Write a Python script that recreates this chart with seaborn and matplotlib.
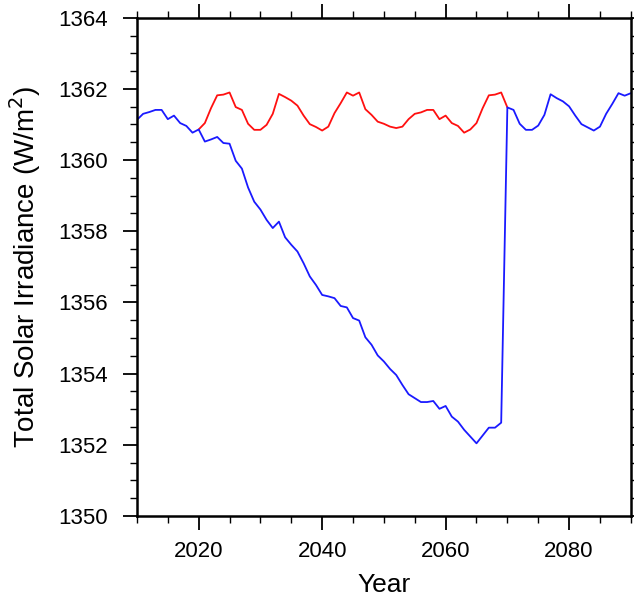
import numpy as np
import pandas as pd
import matplotlib
matplotlib.use("Agg")
import matplotlib.pyplot as plt
import seaborn as sns
from matplotlib.ticker import MultipleLocator

# ----------------------------
# DATA
# ----------------------------
blue_years = list(range(2010, 2091))
blue_tsi = [
    1361.13, 1361.30, 1361.35, 1361.41, 1361.41, 1361.15, 1361.25, 1361.04, 1360.96, 1360.77,
    1360.86, 1360.52, 1360.58, 1360.65, 1360.48, 1360.46, 1359.98, 1359.76, 1359.23, 1358.83,
    1358.61, 1358.32, 1358.09, 1358.27, 1357.83, 1357.62, 1357.43, 1357.10, 1356.73, 1356.49,
    1356.21, 1356.17, 1356.12, 1355.90, 1355.86, 1355.56, 1355.49, 1355.02, 1354.81, 1354.51,
    1354.34, 1354.13, 1353.96, 1353.68, 1353.42, 1353.31, 1353.20, 1353.20, 1353.23, 1353.01,
    1353.09, 1352.79, 1352.65, 1352.42, 1352.23, 1352.04, 1352.26, 1352.48, 1352.48, 1352.62,
    1361.48, 1361.41, 1361.02, 1360.85, 1360.85, 1360.97, 1361.27, 1361.85, 1361.74, 1361.65,
    1361.51, 1361.25, 1361.01, 1360.92, 1360.83, 1360.94, 1361.30, 1361.58, 1361.88, 1361.81,
    1361.88,
]

red_years = list(range(2020, 2071))
red_tsi = [
    1360.86, 1361.04, 1361.46, 1361.82, 1361.84, 1361.90, 1361.49, 1361.41, 1361.02, 1360.85,
    1360.85, 1360.99, 1361.30, 1361.86, 1361.77, 1361.67, 1361.53, 1361.25, 1361.01, 1360.93,
    1360.83, 1360.94, 1361.32, 1361.60, 1361.90, 1361.81, 1361.90, 1361.43, 1361.27, 1361.08,
    1361.02, 1360.94, 1360.90, 1360.94, 1361.15, 1361.30, 1361.34, 1361.41, 1361.41, 1361.15,
    1361.25, 1361.04, 1360.96, 1360.77, 1360.86, 1361.04, 1361.46, 1361.82, 1361.84, 1361.90,
    1361.48,
]

x_ticks = [2020, 2040, 2060, 2080]
y_ticks = [1350, 1352, 1354, 1356, 1358, 1360, 1362, 1364]

df = pd.concat([
    pd.DataFrame({"Year": red_years, "TSI": red_tsi, "run": "red"}),
    pd.DataFrame({"Year": blue_years, "TSI": blue_tsi, "run": "blue"}),
])

# ----------------------------
# PLOT
# ----------------------------
sns.set_style("ticks")
plt.rcParams["font.family"] = ["Liberation Sans", "DejaVu Sans"]
plt.rcParams["text.color"] = "black"
plt.rcParams["axes.labelcolor"] = "black"

fig = plt.figure(figsize=(6.34, 6.12), dpi=100)
ax = fig.add_axes([0.216, 0.157, 0.779, 0.814])

sns.lineplot(data=df, x="Year", y="TSI", hue="run", palette={"red": "#ff1010", "blue": "#1a1aff"},
             linewidth=1.3, legend=False, ax=ax, estimator=None, sort=False)

ax.set_xlim(2010, 2090)
ax.set_ylim(1350, 1364)
ax.set_xticks(x_ticks)
ax.set_yticks(y_ticks)
ax.xaxis.set_minor_locator(MultipleLocator(5))
ax.yaxis.set_minor_locator(MultipleLocator(0.5))
ax.tick_params(which="both", direction="out", top=True, right=True, colors="black",
               labelsize=16, labeltop=False, labelright=False)
ax.tick_params(which="major", length=10, width=1.3)
ax.tick_params(which="minor", length=5, width=1.0)
ax.tick_params(axis="x", which="major", pad=8)
ax.tick_params(axis="y", which="major", pad=11)

for s in ax.spines.values():
    s.set_linewidth(1.8)
    s.set_color("black")

ax.set_xlabel("Year", fontsize=19, labelpad=8, color="black")
ax.set_ylabel("Total Solar Irradiance (W/m$^2$)", fontsize=20, labelpad=11, color="black")

fig.savefig("out.png", dpi=100)
